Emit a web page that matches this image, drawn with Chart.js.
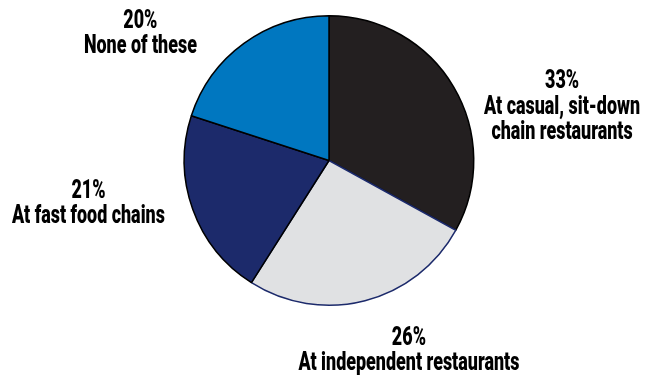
<!DOCTYPE html>
<html>
<head>
<meta charset="utf-8">
<script src="https://cdn.jsdelivr.net/npm/chart.js@4"></script>
<style>
html, body { margin: 0; padding: 0; background: #ffffff; }
#wrap { width: 647px; height: 376px; }
</style>
</head>
<body>
<div id="wrap"><canvas id="pieChart" width="647" height="376"></canvas></div>
<script>

// Where people eat out most

const categories = [
"At casual, sit-down chain restaurants",
"At independent restaurants",
"At fast food chains",
"None of these"
];

const shares = [33, 26, 21, 20];

// label text lines (first line is the percentage)
const labelLines = [
["33%", "At casual, sit-down", "chain restaurants"],
["26%", "At independent restaurants"],
["21%", "At fast food chains"],
["20%", "None of these"]
];

const sliceColors = ["#231f20", "#e0e1e3", "#1c2a6b", "#0077c0"];
const sliceBorders = ["#000000", "#1c2a6b", "#000000", "#000000"];

// label anchor relative to the pie centre, in pie radii
const labelPlace = [
[1.61, -0.50],
[0.552, 1.272],
[-1.662, 0.259],
[-1.303, -0.917]
];

const fontSize = 25;
const lineGap = 25.5;
// condensed look: "None of these" is about 4.5 em wide in the original
const emWidth = 4.52;


// draw the outside labels in a condensed bold face

const pieLabels = {
id: "pieLabels",
afterDraw: function(chart){

let ctx = chart.ctx;
let arcs = chart.getDatasetMeta(0).data;

ctx.save();
ctx.fillStyle = "#000000";
ctx.font = "900 " + fontSize + "px Roboto, 'Liberation Sans', sans-serif";
ctx.textAlign = "center";
ctx.textBaseline = "alphabetic";

let squeeze = emWidth * fontSize / ctx.measureText("None of these").width;

arcs.forEach(function(arc, i){

let r = arc.outerRadius;
let x = arc.x + labelPlace[i][0] * r;
let y = arc.y + labelPlace[i][1] * r;

labelLines[i].forEach(function(line, j){
ctx.save();
ctx.translate(x, y + j * lineGap);
ctx.scale(squeeze, 1);
ctx.fillText(line, 0, 0);
ctx.restore();
});

});

ctx.restore();
}
};


const ctx = document.getElementById("pieChart").getContext("2d");

let pieChart = new Chart(ctx, {
type: "pie",

data: {
labels: categories,
datasets: [{
data: shares,
backgroundColor: sliceColors,
borderColor: sliceBorders,
borderWidth: 1.5
}]
},

options: {
responsive: false,
animation: false,
layout: {
padding: { left: 11, right: 0, top: 15, bottom: 70 }
},
plugins: {
legend: { display: false },
tooltip: { enabled: false }
}
},

plugins: [pieLabels]
});

</script>
</body>
</html>
